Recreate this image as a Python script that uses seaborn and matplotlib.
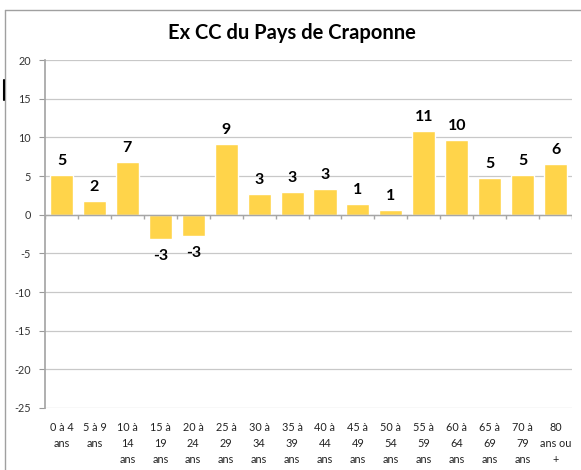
import numpy as np
import pandas as pd
import seaborn as sns
import matplotlib.pyplot as plt
from matplotlib.lines import Line2D

# --- Données ---
categories = ["0 à 4\nans", "5 à 9\nans", "10 à\n14\nans", "15 à\n19\nans", "20 à\n24\nans",
              "25 à\n29\nans", "30 à\n34\nans", "35 à\n39\nans", "40 à\n44\nans", "45 à\n49\nans",
              "50 à\n54\nans", "55 à\n59\nans", "60 à\n64\nans", "65 à\n69\nans", "70 à\n79\nans",
              "80\nans ou\n+"]
values = [5.1, 1.8, 6.8, -3.2, -2.8, 9.2, 2.7, 3.0, 3.35, 1.4, 0.65, 10.8, 9.7, 4.8, 5.1, 6.6]
value_labels = ["5", "2", "7", "-3", "-3", "9", "3", "3", "3", "1", "1", "11", "10", "5", "5", "6"]
y_ticks = [-25, -20, -15, -10, -5, 0, 5, 10, 15, 20]
title = "Ex CC du Pays de Craponne"

sns.set_theme(style="white")
plt.rcParams['font.family'] = ['Lato', 'DejaVu Sans']

df = pd.DataFrame({"cat": categories, "val": values})

fig = plt.figure(figsize=(5.81, 4.7), dpi=100)
ax = fig.add_axes([0.0775, 0.132, 0.907, 0.740])

sns.barplot(data=df, x="cat", y="val", color="#FFD44A", saturation=1,
            width=0.7, ax=ax)

ax.set_ylim(-25, 20)
ax.set_xlim(-0.5, len(categories) - 0.5)
ax.set_yticks(y_ticks)
ax.set_yticklabels([str(t) for t in y_ticks], fontsize=7.8, color="#333333")
ax.set_xlabel("")
ax.set_ylabel("")
ax.tick_params(axis="x", length=0, labelsize=7.8, colors="#222222", pad=10)
ax.tick_params(axis="y", length=4, width=0.8, color="#999999", left=True, pad=6)
for lab in ax.get_xticklabels():
    lab.set_verticalalignment("top")
    lab.set_linespacing(1.58)

# grille
ax.yaxis.grid(True, color="#C8C8C8", linewidth=0.9)
ax.set_axisbelow(True)
for side in ["top", "right"]:
    ax.spines[side].set_visible(False)
ax.spines["bottom"].set_visible(False)
ax.spines["left"].set_color("#A6A6A6")

# axe horizontal à zéro avec graduations entre catégories
ax.axhline(0, color="#A6A6A6", linewidth=1.0, zorder=3)
bounds = np.arange(len(categories) + 1) - 0.5
ax.vlines(bounds, -0.6, 0, color="#A6A6A6", linewidth=1.0, zorder=3)

# étiquettes de valeurs
for i, (v, lab) in enumerate(zip(values, value_labels)):
    if v >= 0:
        ax.annotate(lab, (i, v), xytext=(0, 5), textcoords="offset points",
                    ha="center", va="bottom", fontsize=11.5, fontweight="bold", color="black")
    else:
        ax.annotate(lab, (i, v), xytext=(0, -7), textcoords="offset points",
                    ha="center", va="top", fontsize=11.5, fontweight="bold", color="black")

fig.text(292 / 581, 1 - 33 / 470, title, ha="center", va="center",
         fontsize=14.5, fontweight="bold", color="black")

# cadre du graphique
W, H = 581, 470
fig.add_artist(Line2D([5 / W, 1], [1 - 10 / H, 1 - 10 / H], transform=fig.transFigure,
                      color="#A0A0A0", linewidth=1.0))
fig.add_artist(Line2D([5 / W, 5 / W], [0, 1 - 10 / H], transform=fig.transFigure,
                      color="#A0A0A0", linewidth=1.0))
fig.add_artist(Line2D([3.5 / W, 3.5 / W], [1 - 80 / H, 1 - 100 / H], transform=fig.transFigure,
                      color="black", linewidth=1.5))

fig.savefig("out.png", dpi=100)
